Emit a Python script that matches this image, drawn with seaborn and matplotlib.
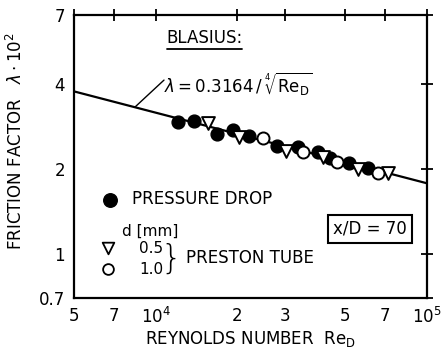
import numpy as np
import pandas as pd
import matplotlib
matplotlib.use("Agg")
import matplotlib.pyplot as plt
import seaborn as sns
from matplotlib.lines import Line2D

# ---- data ----
re_drop = [12100, 13800, 16900, 19300, 22000, 27900, 33600, 39800, 43900, 51800, 60800]
lam_drop = [2.92, 2.95, 2.65, 2.75, 2.62, 2.42, 2.40, 2.30, 2.19, 2.10, 2.02]

re_p05 = [15600, 20200, 30200, 41300, 55500, 71700]
lam_p05 = [2.91, 2.59, 2.32, 2.20, 2.00, 1.93]

re_p10 = [24900, 35000, 46500, 65800]
lam_p10 = [2.57, 2.30, 2.12, 1.93]

blasius_re = [5000, 100000]
blasius_lam = [3.76, 1.78]

xticks = [5000, 7000, 10000, 20000, 30000, 50000, 70000, 100000]
xticklabels = ["5", "7", r"$10^4$", "2", "3", "5", "7", r"$10^5$"]
yticks = [0.7, 1, 2, 4, 7]
yticklabels = ["0.7", "1", "2", "4", "7"]

sns.set_theme(style="white")
plt.rcParams["font.family"] = ["DejaVu Sans"]
plt.rcParams["mathtext.fontset"] = "dejavusans"
plt.rcParams["text.color"] = "black"
plt.rcParams["axes.labelcolor"] = "black"
plt.rcParams["xtick.color"] = "black"
plt.rcParams["ytick.color"] = "black"

fig = plt.figure(figsize=(4.42, 3.52), dpi=100)
ax = fig.add_axes([0.1674, 0.1534, 0.7986, 0.804])

sns.lineplot(x=blasius_re, y=blasius_lam, ax=ax, color="black", lw=1.6)
sns.scatterplot(x=re_drop, y=lam_drop, ax=ax, marker="o", s=85,
                color="black", edgecolor="black", linewidth=1.0, zorder=3)
sns.scatterplot(x=re_p05, y=lam_p05, ax=ax, marker="v", s=85,
                facecolor="white", edgecolor="black", linewidth=1.4, zorder=4)
sns.scatterplot(x=re_p10, y=lam_p10, ax=ax, marker="o", s=75,
                facecolor="white", edgecolor="black", linewidth=1.4, zorder=4)

ax.set_xscale("log")
ax.set_yscale("log")
ax.set_xlim(5000, 100000)
ax.set_ylim(0.7, 7)
ax.minorticks_off()
ax.set_xticks(xticks)
ax.set_xticklabels(xticklabels, fontsize=12)
ax.set_yticks(yticks)
ax.set_yticklabels(yticklabels, fontsize=12)
ax.tick_params(axis="both", which="major", direction="inout", length=9,
               width=1.3, color="black", pad=2, labelcolor="black")
ax.tick_params(top=True, right=True, labeltop=False, labelright=False)
for s in ax.spines.values():
    s.set_linewidth(1.6)
    s.set_color("black")

ax.set_xlabel(r"REYNOLDS NUMBER  Re$_\mathrm{D}$", fontsize=12, labelpad=1)
ax.set_ylabel(r"FRICTION FACTOR   $\lambda\cdot10^2$", fontsize=12)
ax.yaxis.set_label_coords(-0.135, 0.555)

# Blasius annotation
ax.text(0.261, 0.919, "BLASIUS:", transform=ax.transAxes, fontsize=12,
        ha="left", va="center")
ax.add_line(Line2D([0.263, 0.476], [0.88, 0.88], transform=ax.transAxes,
                   color="black", lw=1.3))
ax.text(0.255, 0.756, r"$\lambda = 0.3164\,/\,\sqrt[4]{\mathrm{Re}_\mathrm{D}}$",
        transform=ax.transAxes, fontsize=12, ha="left", va="center")
ax.annotate("", xy=(8390, 3.31), xytext=(0.255, 0.77),
            textcoords=ax.transAxes,
            arrowprops=dict(arrowstyle="-", color="black", lw=1.0,
                            shrinkA=0, shrinkB=0))

# legend
ax.scatter([0.102], [0.346], transform=ax.transAxes, marker="o", s=95,
           color="black", zorder=5)
ax.text(0.164, 0.35, "PRESSURE DROP", transform=ax.transAxes, fontsize=12,
        ha="left", va="center")
ax.text(0.136, 0.237, "d [mm]", transform=ax.transAxes, fontsize=11,
        ha="left", va="center")
ax.scatter([0.096], [0.175], transform=ax.transAxes, marker="v", s=70,
           facecolor="white", edgecolor="black", linewidth=1.3, zorder=5)
ax.scatter([0.096], [0.102], transform=ax.transAxes, marker="o", s=60,
           facecolor="white", edgecolor="black", linewidth=1.3, zorder=5)
ax.text(0.252, 0.175, "0.5", transform=ax.transAxes, fontsize=11,
        ha="right", va="center")
ax.text(0.252, 0.102, "1.0", transform=ax.transAxes, fontsize=11,
        ha="right", va="center")
ax.text(0.276, 0.136, "}", transform=ax.transAxes, fontsize=24,
        ha="center", va="center", fontweight="light")
ax.text(0.318, 0.141, "PRESTON TUBE", transform=ax.transAxes, fontsize=12,
        ha="left", va="center")

ax.text(0.839, 0.244, "x/D = 70", transform=ax.transAxes, fontsize=12,
        ha="center", va="center",
        bbox=dict(boxstyle="square,pad=0.3", facecolor="white",
                  edgecolor="black", linewidth=1.5))

fig.savefig("out.png", dpi=100)
